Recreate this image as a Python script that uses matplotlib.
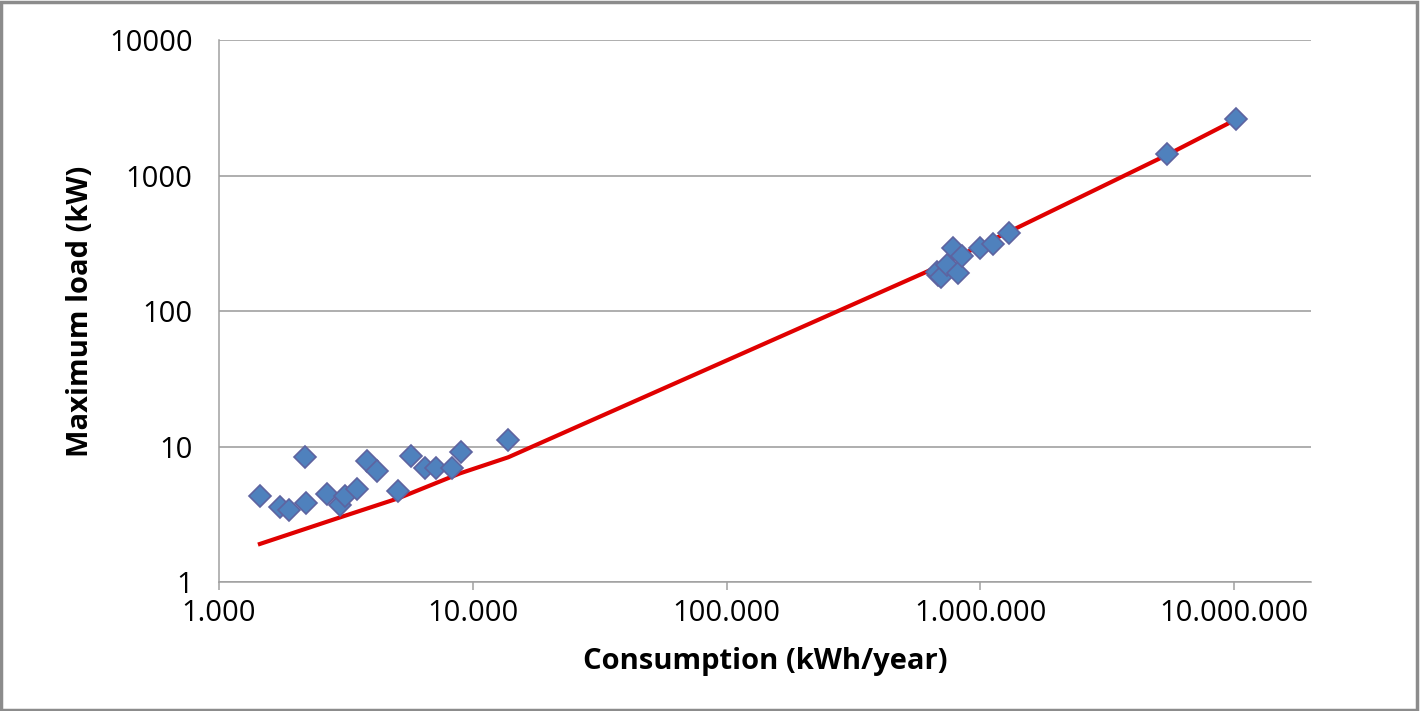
import matplotlib
matplotlib.use('Agg')
import matplotlib.pyplot as plt
from matplotlib.ticker import FixedLocator, FuncFormatter, NullLocator
from matplotlib.patches import Rectangle

# measured points: consumption (kWh/year) vs maximum load (kW)
consumption = [1450, 1740, 1890, 2180, 2200, 2670, 3000, 3140, 3490, 3820,
               4180, 5090, 5720, 6490, 7170, 8260, 8960, 13800,
               684000, 676000, 700000, 738000, 783000, 820000, 845000,
               997000, 1120000, 1300000, 5430000, 10200000]
max_load = [4.3, 3.6, 3.4, 8.3, 3.85, 4.45, 3.7, 4.3, 4.85, 7.85,
            6.6, 4.7, 8.5, 7.0, 7.0, 7.0, 9.1, 11.2,
            184, 194, 177, 218, 293, 190, 255,
            290, 311, 378, 1430, 2600]

# fitted curve (red line)
fit_x = [1450, 3000, 5090, 8910, 13800, 615000, 5430000, 10200000]
fit_y = [1.91, 3.0, 4.15, 6.34, 8.33, 195, 1417, 2600]

fig = plt.figure(figsize=(14.21, 7.11), dpi=100)
plt.rcParams['font.family'] = ['Open Sans', 'DejaVu Sans']
ax = fig.add_axes([0.1541, 0.1814, 0.9224 - 0.1541, 0.9437 - 0.1814])

ax.plot(fit_x, fit_y, color='#E00000', lw=3.0, zorder=2)
ax.plot(consumption, max_load, linestyle='none', marker='D', markersize=11.5,
        markerfacecolor='#4F81BD', markeredgecolor='#5E63A0', markeredgewidth=1.2,
        zorder=3)

ax.set_xscale('log')
ax.set_yscale('log')
ax.set_xlim(1000, 10 ** 7.302)
ax.set_ylim(1, 10000)

ax.xaxis.set_major_locator(FixedLocator([1e3, 1e4, 1e5, 1e6, 1e7]))
ax.xaxis.set_minor_locator(NullLocator())
ax.yaxis.set_major_locator(FixedLocator([1, 10, 100, 1000, 10000]))
ax.yaxis.set_minor_locator(NullLocator())
ax.xaxis.set_major_formatter(FuncFormatter(lambda v, p: f"{int(round(v)):,}".replace(',', '.')))
ax.yaxis.set_major_formatter(FuncFormatter(lambda v, p: f"{int(round(v))}"))

ax.grid(axis='y', color='#999999', lw=1.1)
ax.set_axisbelow(True)
for s in ['top', 'right']:
    ax.spines[s].set_visible(False)
for s in ['left', 'bottom']:
    ax.spines[s].set_color('#A0A0A0')
    ax.spines[s].set_linewidth(1.1)

ax.tick_params(axis='x', length=6, width=1.1, color='#A0A0A0', labelsize=21, pad=6)
ax.tick_params(axis='y', length=0, labelsize=21, pad=19)

ax.set_xlabel('Consumption (kWh/year)', fontsize=21, fontweight='bold', labelpad=14)
ax.set_ylabel('Maximum load (kW)', fontsize=21, fontweight='bold', labelpad=10)

fig.patches.append(Rectangle((0.001, 0.002), 0.996, 0.995, transform=fig.transFigure,
                             fill=False, edgecolor='#8C8C8C', lw=2.5))

fig.savefig('out.png', dpi=100)
